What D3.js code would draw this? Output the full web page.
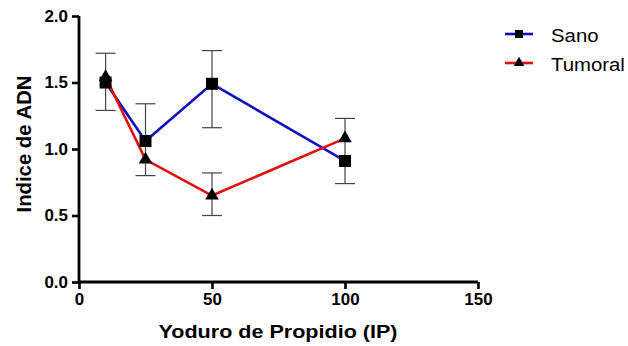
<!DOCTYPE html>
<html><head><meta charset="utf-8">
<script src="https://cdn.jsdelivr.net/npm/d3@7"></script>
<style>body{margin:0;background:#fff}svg{display:block}</style>
</head><body>
<script>
const xValues = [10, 25, 50, 100];
const sanoMean = [1.50, 1.06, 1.49, 0.91];
const sanoErrUp = [0.22, 0.28, 0.25, 0.32];
const sanoErrDown = [0.21, 0.26, 0.33, 0.17];
const tumoralMean = [1.54, 0.92, 0.65, 1.08];
const tumoralErrUp = [0, 0, 0.17, 0];
const tumoralErrDown = [0, 0, 0.15, 0];
const xTicks = [0, 50, 100, 150];
const yTicks = [0.0, 0.5, 1.0, 1.5, 2.0];
const seriesNames = ["Sano", "Tumoral"];
const seriesColors = ["#1010c0", "#e01010"];

const W = 628, H = 346;
const svg = d3.select("body").append("svg").attr("width", W).attr("height", H);
const x = d3.scaleLinear().domain([0, 150]).range([79, 478]);
const y = d3.scaleLinear().domain([0, 2]).range([282, 16]);
const font = "Arial, 'Liberation Sans', sans-serif";

// axes
const xAxis = svg.append("g").attr("transform", "translate(0,282)")
  .call(d3.axisBottom(x).tickValues(xTicks).tickSize(7).tickPadding(5).tickFormat(d3.format("d")));
const yAxis = svg.append("g").attr("transform", "translate(79,0)")
  .call(d3.axisLeft(y).tickValues(yTicks).tickSize(7).tickPadding(3).tickFormat(d3.format(".1f")));
[xAxis, yAxis].forEach(a => {
  a.select(".domain").attr("stroke", "#000").attr("stroke-width", 2.8);
  a.selectAll(".tick line").attr("stroke", "#000").attr("stroke-width", 2.6);
  a.selectAll(".tick text").attr("fill", "#000").style("font-family", font)
    .style("font-size", "16px").style("font-weight", "bold");
});
yAxis.selectAll(".tick text").attr("x", null).attr("transform", "translate(-11,0) scale(1.06,1)");
xAxis.selectAll(".tick text").attr("transform", "scale(1.06,1)");
xAxis.select(".domain").attr("d", `M${x(0)},0H${x(150)}`);
yAxis.select(".domain").attr("d", `M0,${y(0)}V${y(2)}`);

const series = [
  {name: seriesNames[0], mean: sanoMean, up: sanoErrUp, down: sanoErrDown, color: seriesColors[0], shape: d3.symbolSquare},
  {name: seriesNames[1], mean: tumoralMean, up: tumoralErrUp, down: tumoralErrDown, color: seriesColors[1], shape: d3.symbolTriangle}
];

// error bars
series.forEach(s => {
  const g = svg.append("g").attr("stroke", "#444").attr("stroke-width", 1.2).attr("fill", "none");
  xValues.forEach((xv, i) => {
    if (!s.up[i] && !s.down[i]) return;
    const cx = x(xv), t = y(s.mean[i] + s.up[i]), b = y(s.mean[i] - s.down[i]);
    g.append("line").attr("x1", cx).attr("x2", cx).attr("y1", t).attr("y2", b);
    if (s.up[i]) g.append("line").attr("x1", cx - 10).attr("x2", cx + 10).attr("y1", t).attr("y2", t);
    if (s.down[i]) g.append("line").attr("x1", cx - 10).attr("x2", cx + 10).attr("y1", b).attr("y2", b);
  });
});

// lines
const line = d3.line().x((d, i) => x(xValues[i])).y(d => y(d));
series.forEach(s => {
  svg.append("path").attr("d", line(s.mean)).attr("fill", "none")
    .attr("stroke", s.color).attr("stroke-width", 2.6);
});

// markers
series.forEach(s => {
  const sym = d3.symbol().type(s.shape).size(s.shape === d3.symbolSquare ? 144 : 80);
  xValues.forEach((xv, i) => {
    svg.append("path").attr("d", sym())
      .attr("transform", `translate(${x(xv)},${y(s.mean[i])})`).attr("fill", "#000");
  });
});

// legend
series.forEach((s, i) => {
  const ly = 34 + i * 29;
  svg.append("line").attr("x1", 505).attr("x2", 533).attr("y1", ly).attr("y2", ly)
    .attr("stroke", s.color).attr("stroke-width", 2.6);
  const sym = d3.symbol().type(s.shape).size(s.shape === d3.symbolSquare ? 64 : 50);
  svg.append("path").attr("d", sym()).attr("transform", `translate(519,${ly})`).attr("fill", "#000");
  svg.append("text").attr("transform", `translate(551,${ly + 7.5}) scale(1.1,1)`).text(s.name)
    .style("font-family", font).style("font-size", "18.5px").attr("fill", "#000");
});

// axis titles
svg.append("text").attr("x", 278).attr("y", 338).attr("text-anchor", "middle")
  .attr("textLength", 239).attr("lengthAdjust", "spacingAndGlyphs")
  .text("Yoduro de Propidio (IP)").style("font-family", font).style("font-size", "19px")
  .style("font-weight", "bold");
svg.append("text").attr("transform", "translate(31,144) rotate(-90)").attr("text-anchor", "middle")
  .attr("textLength", 137).attr("lengthAdjust", "spacingAndGlyphs")
  .text("Indice de ADN").style("font-family", font).style("font-size", "20px")
  .style("font-weight", "bold");
</script>
</body></html>
